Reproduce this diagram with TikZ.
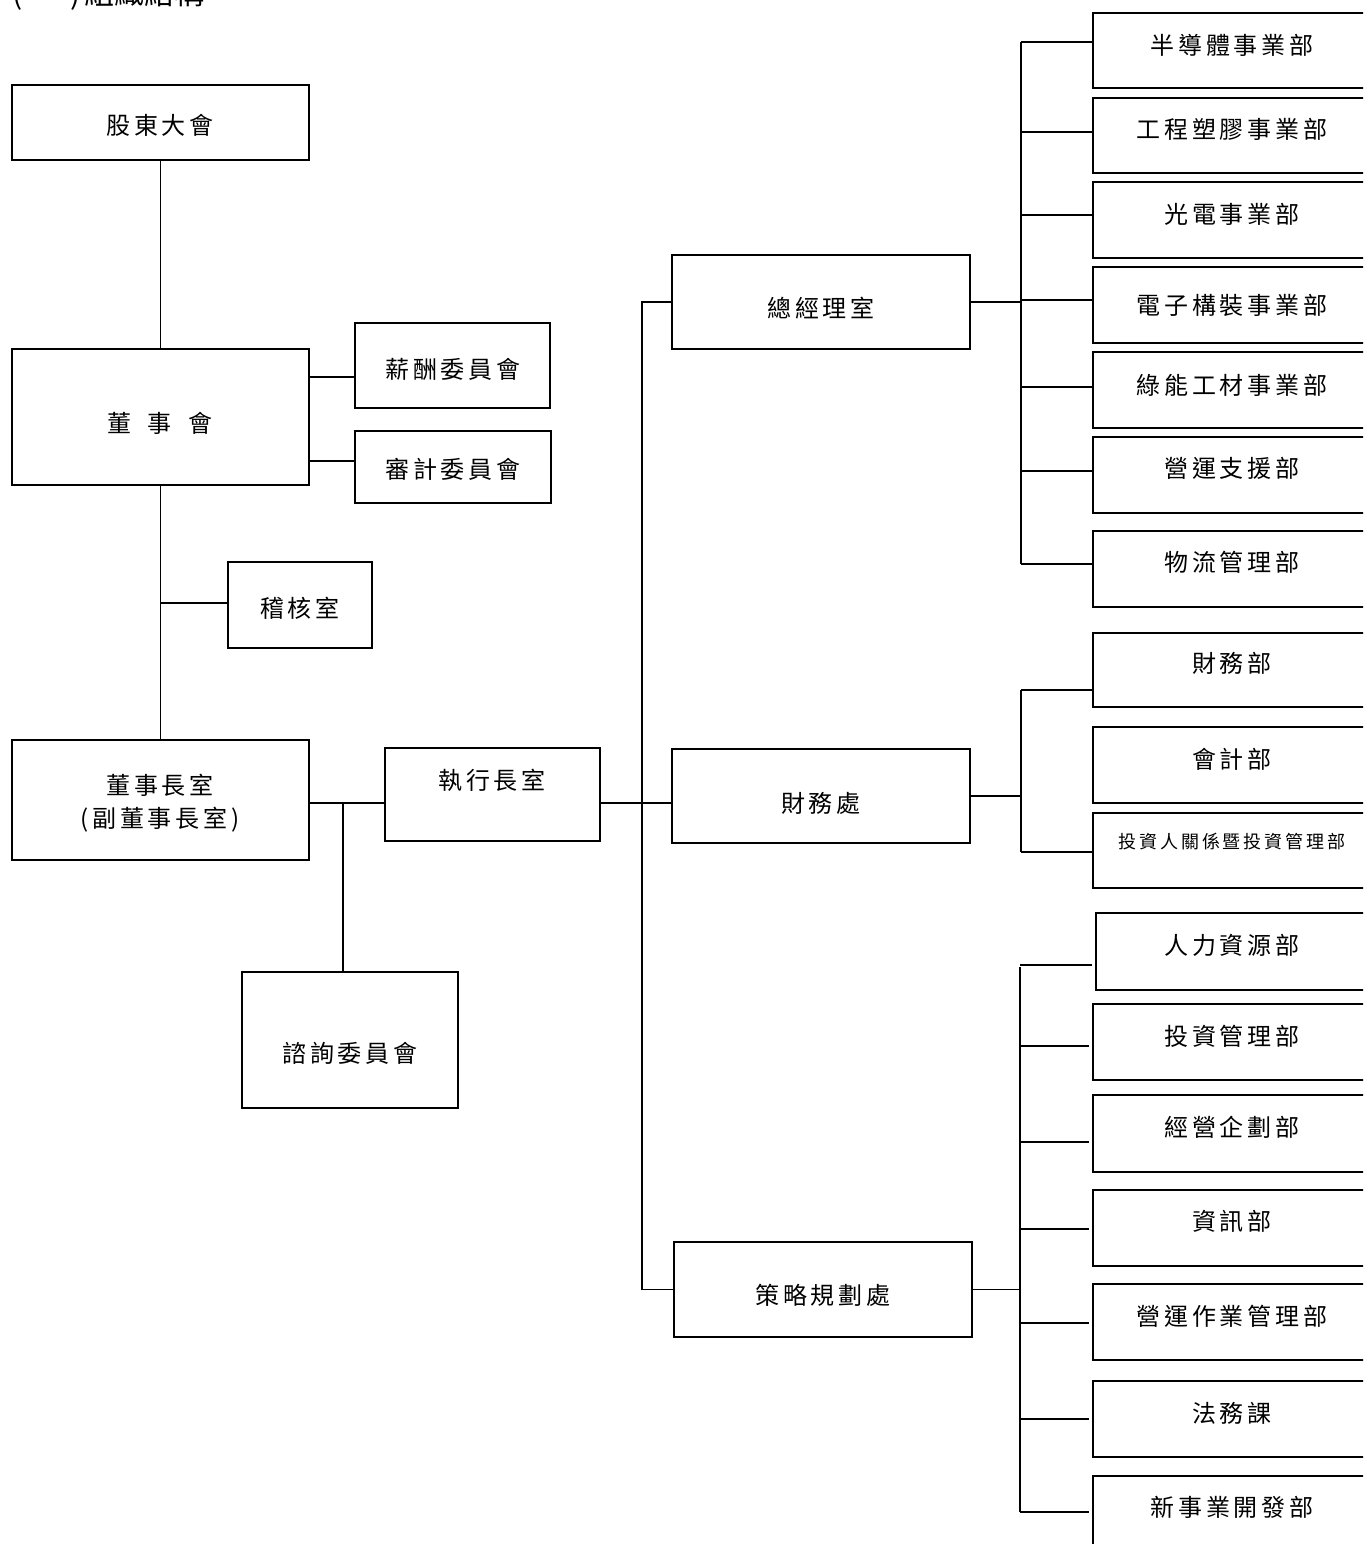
\documentclass[tikz,border=0pt]{standalone}
\usepackage{fontspec}
\newfontfamily\cjk[LetterSpace=16]{Noto Sans CJK TC}
\newfontfamily\cjkt{Noto Sans CJK TC}
\tikzset{
  box/.style={draw, line width=2.6pt, rectangle, inner sep=0pt, outer sep=0pt},
  lbl/.style={inner sep=0pt, font=\cjk\fontsize{24}{28}\selectfont},
  small/.style={inner sep=0pt, font=\cjk\fontsize{18}{20}\selectfont},
  conn/.style={line width=1.8pt},
}
% box: name, x1, y1, x2, y2
\newcommand\obox[5]{\node[box, minimum width={#4-#2}, minimum height={#5-#3}] (#1) at ({(#2+#4)/2},{(#3+#5)/2}) {};}
% right box: name, y1, y2, text y, branch y, text, x1
\newcommand\rbox[7]{%
  \node[box, minimum width={1400-#7}, minimum height={#3-#2}] (#1) at ({(#7+1400)/2},{(#2+#3)/2}) {};
  \coordinate (#1c) at (#7,#5);
  \node[lbl] (#1t) at (1232,#4) {#6};}
\begin{document}
\begin{tikzpicture}[x=1pt,y=-1pt]
\useasboundingbox (0,0) rectangle (1363,1544);
\clip (0,0) rectangle (1363,1544);
% title (cut off at the top, as in the reference)
\node[font=\cjkt\fontsize{30}{30}\selectfont, anchor=base west, inner sep=0pt] (title) at (12,5) {(\hspace{9pt}一\hspace{9pt})\hspace{4pt}組織結構};
% left side
\obox{gd}{12}{85}{309}{160}
\node[lbl] (gdt) at (160,125) {股東大會};
\obox{dsh}{12}{349}{309}{485}
\node[lbl] (dsht) at (160,423) {董\hspace{17pt}事\hspace{17pt}會};
\obox{xc}{355}{323}{550}{408}
\node[lbl] (xct) at (453,369) {薪酬委員會};
\obox{sj}{355}{431}{551}{503}
\node[lbl] (sjt) at (453,469) {審計委員會};
\obox{jh}{228}{562}{372}{648}
\node[lbl] (jht) at (300,608) {稽核室};
\obox{dsz}{12}{740}{309}{860}
\node[lbl] (dszt) at (160,785) {董事長室};
\node[lbl] (dszt2) at (160,820) {(副董事長室)};
\obox{zxz}{385}{748}{600}{841}
\node[lbl] (zxzt) at (492,780) {執行長室};
\obox{zx}{242}{972}{458}{1108}
\node[lbl] (zxt) at (350,1053) {諮詢委員會};
% middle
\obox{zjl}{672}{255}{970}{349}
\node[lbl] (zjlt) at (821,308) {總經理室};
\obox{cwc}{672}{749}{970}{843}
\node[lbl] (cwct) at (821,803) {財務處};
\obox{clh}{674}{1242}{972}{1337}
\node[lbl] (clht) at (823,1295) {策略規劃處};
% right column
\rbox{r1}{13}{88}{45}{42}{半導體事業部}{1093}
\rbox{r2}{98}{173}{129}{132}{工程塑膠事業部}{1093}
\rbox{r3}{182}{258}{214}{215}{光電事業部}{1093}
\rbox{r4}{267}{343}{305}{300}{電子構裝事業部}{1093}
\rbox{r5}{352}{428}{385}{387}{綠能工材事業部}{1093}
\rbox{r6}{437}{513}{468}{471}{營運支援部}{1093}
\rbox{r7}{531}{607}{562}{564}{物流管理部}{1093}
\rbox{f1}{633}{707}{663}{690}{財務部}{1093}
\rbox{f2}{727}{803}{759}{765}{會計部}{1093}
\node[box, minimum width={1400-1093}, minimum height={888-813}] (f3) at ({(1093+1400)/2},{(813+888)/2}) {};
\coordinate (f3c) at (1093,852);
\node[small] (f3t) at (1232,842) {投資人關係暨投資管理部};
\rbox{s1}{913}{990}{945}{965}{人力資源部}{1096}
\rbox{s2}{1004}{1080}{1036}{1046}{投資管理部}{1093}
\rbox{s3}{1095}{1172}{1127}{1142}{經營企劃部}{1093}
\rbox{s4}{1190}{1266}{1221}{1229}{資訊部}{1093}
\rbox{s5}{1284}{1360}{1316}{1323}{營運作業管理部}{1093}
\rbox{s6}{1381}{1457}{1413}{1419}{法務課}{1093}
\rbox{s7}{1476}{1560}{1507}{1512}{新事業開發部}{1093}
% junction coordinates
\coordinate (j1) at (330,377);
\coordinate (j2) at (330,461);
\coordinate (j3) at (160,603);
\coordinate (j4) at (343,803);
\coordinate (b1) at (642,0);
\coordinate (b2) at (1021,0);
\coordinate (b3) at (1021,0);
\coordinate (b4) at (1020,0);
% left connectors
\draw[conn] (gd.south) -- (dsh.north);
\draw[conn] (dsh.east |- j1) -- (xc.west |- j1);
\draw[conn] (dsh.east |- j2) -- (sj.west |- j2);
\draw[conn] (dsh.south) -- (dsz.north);
\draw[conn] (dsh.south |- j3) -- (jh.west |- j3);
\draw[conn] (dsz.east |- j4) -- (zxz.west |- j4);
\draw[conn] (j4) -- (zx.north -| j4);
% main bus
\draw[conn] (zxz.east |- j4) -- (b1 |- j4);
\draw[conn] (zjl.west) -- (b1 |- zjl.west) -- (b1 |- clh.west) -- (clh.west);
\draw[conn] (b1 |- j4) -- (cwc.west |- j4);
% 總經理室 bus
\draw[conn] (zjl.east) -- (b2 |- zjl.east);
\draw[conn] (b2 |- r1c) -- (b2 |- r7c);
\foreach \r in {r1,r2,r3,r4,r5,r6,r7} \draw[conn] (b2 |- \r c) -- (\r c);
% 財務處 bus
\draw[conn] (cwc.east) -- (b3 |- cwc.east);
\draw[conn] (b3 |- f1c) -- (b3 |- f3c);
\foreach \r in {f1,f3} \draw[conn] (b3 |- \r c) -- (\r c);
% 策略規劃處 bus
\draw[conn] (clh.east) -- (b4 |- clh.east);
\draw[conn] ([yshift=-2pt]b4 |- s1c) -- (b4 |- s7c);
\foreach \r in {s1,s2,s3,s4,s5,s6,s7} \draw[conn] (b4 |- \r c) -- ([xshift=-4pt]\r c);
\end{tikzpicture}
\end{document}
